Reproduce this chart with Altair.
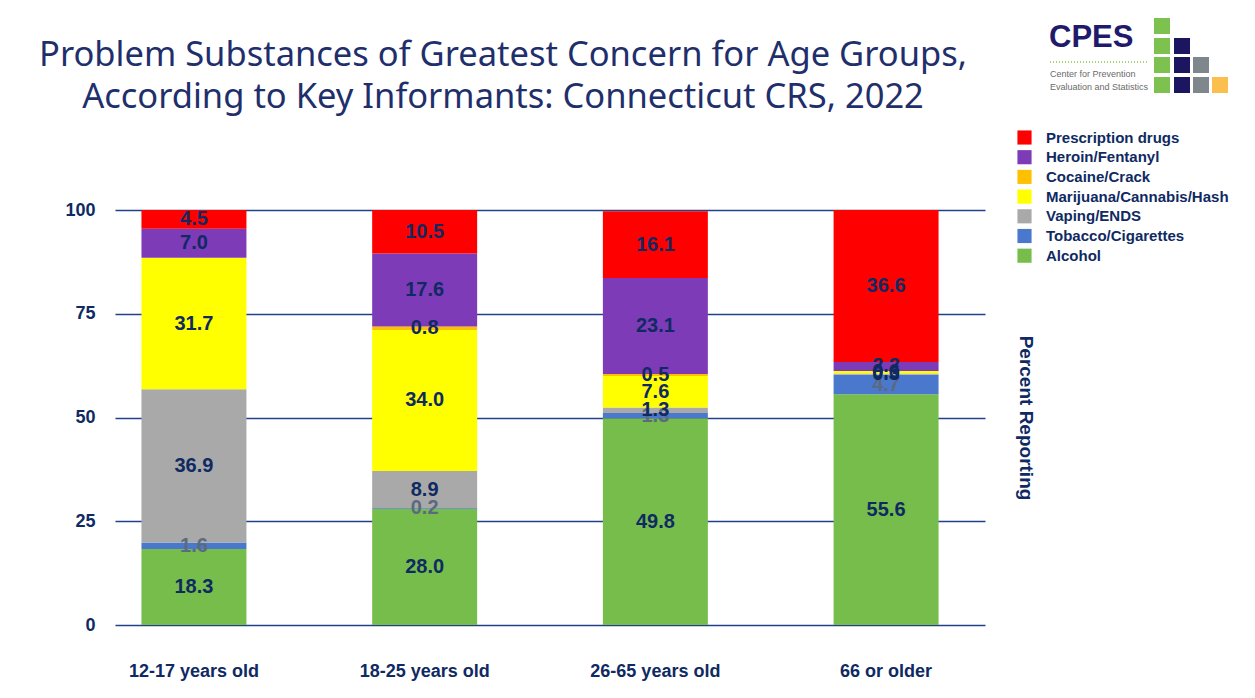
import altair as alt
import pandas as pd

age_groups = ["12-17 years old", "18-25 years old", "26-65 years old", "66 or older"]
substances = ["Alcohol", "Tobacco/Cigarettes", "Vaping/ENDS", "Marijuana/Cannabis/Hash",
              "Cocaine/Crack", "Heroin/Fentanyl", "Prescription drugs"]
alcohol = [18.3, 28.0, 49.8, 55.6]
tobacco = [1.6, 0.2, 1.3, 4.7]
vaping = [36.9, 8.9, 1.3, 0.3]
marijuana = [31.7, 34.0, 7.6, 0.6]
cocaine = [0.0, 0.8, 0.5, 0.0]
heroin = [7.0, 17.6, 23.1, 2.2]
prescription = [4.5, 10.5, 16.1, 36.6]
sub_colors = ["#76bd4c", "#4a78cc", "#a9a9a9", "#ffff00", "#ffc000", "#7e3bb8", "#ff0000"]
title_lines = ["Problem Substances of Greatest Concern for Age Groups,",
               "According to Key Informants: Connecticut CRS, 2022"]

NAVY = "#0f2a62"
GREY_LABEL = "#5c6a80"

series = [alcohol, tobacco, vaping, marijuana, cocaine, heroin, prescription]
rows = []
for si, (name, vals) in enumerate(zip(substances, series)):
    for ai, age in enumerate(age_groups):
        rows.append({"age": age, "substance": name, "value": vals[ai], "order": si,
                     "lc": GREY_LABEL if name == "Tobacco/Cigarettes" else NAVY})
df = pd.DataFrame(rows)

legend_order = substances[::-1]
legend_colors = sub_colors[::-1]

xscale = alt.Scale(paddingInner=0.545, paddingOuter=0.158, align=0.363)
yscale = alt.Scale(domain=[0, 100], nice=False)

base = alt.Chart(df)

bars = base.mark_bar().encode(
    x=alt.X("age:N", sort=age_groups, scale=xscale,
            axis=alt.Axis(title=None, labelAngle=0, labelFont="Liberation Sans",
                          labelFontWeight="bold", labelFontSize=18, labelColor=NAVY,
                          ticks=False, domain=False, labelPadding=37)),
    y=alt.Y("value:Q", stack="zero", scale=yscale,
            axis=alt.Axis(title=None, values=[0, 25, 50, 75, 100], grid=True,
                          gridColor="#23408a", gridWidth=1.5, ticks=False, domain=False,
                          labelFont="Liberation Sans", labelFontWeight="bold",
                          labelFontSize=18, labelColor=NAVY, labelPadding=20)),
    color=alt.Color("substance:N", scale=alt.Scale(domain=legend_order, range=legend_colors),
                    legend=alt.Legend(title=None, orient="none", legendX=902, legendY=-80,
                                      symbolType="square", symbolSize=200, symbolStrokeWidth=0,
                                      labelFont="Liberation Sans", labelFontWeight="bold",
                                      labelFontSize=15, labelColor=NAVY, rowPadding=3.7,
                                      padding=0, labelOffset=14, labelLimit=0)),
    order=alt.Order("order:Q"),
)

labels = base.transform_filter("datum.value > 0").transform_stack(
    stack="value", groupby=["age"], sort=[alt.SortField("order")], as_=["y0", "y1"]
).transform_calculate(mid="(datum.y0 + datum.y1) / 2").mark_text(
    font="Liberation Sans", fontWeight="bold", fontSize=20
).encode(
    x=alt.X("age:N", sort=age_groups, scale=xscale),
    y=alt.Y("mid:Q", scale=yscale, axis=None),
    text=alt.Text("value:Q", format=".1f"),
    color=alt.Color("lc:N", scale=None),
)

right_axis = base.mark_point(opacity=0).encode(
    y=alt.Y("value:Q", scale=yscale,
            axis=alt.Axis(orient="right", title="Percent Reporting", labels=False, ticks=False,
                          domain=False, grid=False, titleAngle=90, titleFont="Liberation Sans",
                          titleFontWeight="bold", titleFontSize=19, titleColor=NAVY,
                          titlePadding=30)),
)

OX, OY = 115, 210
dummy = pd.DataFrame({"a": [0]})

# Title as text marks
title_layers = []
for i, line in enumerate(title_lines):
    title_layers.append(alt.Chart(dummy).mark_text(
        text=line, font="Noto Sans", fontSize=34.5, color="#1f2f6b", align="center",
        baseline="alphabetic").encode(x=alt.value(503 - OX), y=alt.value(66 + 42 * i - OY)))

# Logo (decoration)
logo_layers = []
logo_layers.append(alt.Chart(dummy).mark_text(
    text="CPES", font="Liberation Sans", fontWeight="bold", fontSize=31, color="#1f1a6b",
    align="left", baseline="alphabetic").encode(x=alt.value(1049 - OX), y=alt.value(47 - OY)))
logo_layers.append(alt.Chart(dummy).mark_rule(
    color="#8bc34a", strokeDash=[1, 2], strokeWidth=1.5).encode(
    x=alt.value(1050 - OX), x2=alt.value(1147 - OX), y=alt.value(62 - OY)))
logo_layers.append(alt.Chart(dummy).mark_text(
    text="Center for Prevention", font="Liberation Sans", fontSize=9, color="#6b6b6b",
    align="left").encode(x=alt.value(1050 - OX), y=alt.value(74 - OY)))
logo_layers.append(alt.Chart(dummy).mark_text(
    text="Evaluation and Statistics", font="Liberation Sans", fontSize=9, color="#6b6b6b",
    align="left").encode(x=alt.value(1050 - OX), y=alt.value(87 - OY)))

col_x = [1154, 1174, 1193, 1212]
row_y = [18, 38, 57, 77]
sq_cols = [("#7dc24f", 0), ("#1c1660", 1), ("#7f868c", 2), ("#fbbf4e", 3)]
for ci, (c, first_row) in enumerate(sq_cols):
    for ri in range(first_row, 4):
        logo_layers.append(alt.Chart(dummy).mark_rect(color=c).encode(
            x=alt.value(col_x[ci] - OX), x2=alt.value(col_x[ci] + 16 - OX),
            y=alt.value(row_y[ri] - OY), y2=alt.value(row_y[ri] + 16 - OY)))

chart = alt.layer(bars, labels, right_axis, *title_layers, *logo_layers).resolve_axis(
    y="independent"
).properties(
    width=870, height=415,
    padding={"left": 107, "top": 202, "right": 262, "bottom": 60},
    autosize=alt.AutoSizeParams(type="none"),
    background="white",
).configure_view(stroke=None)

chart.save("out.html", embed_options={"renderer": "svg", "actions": False})
